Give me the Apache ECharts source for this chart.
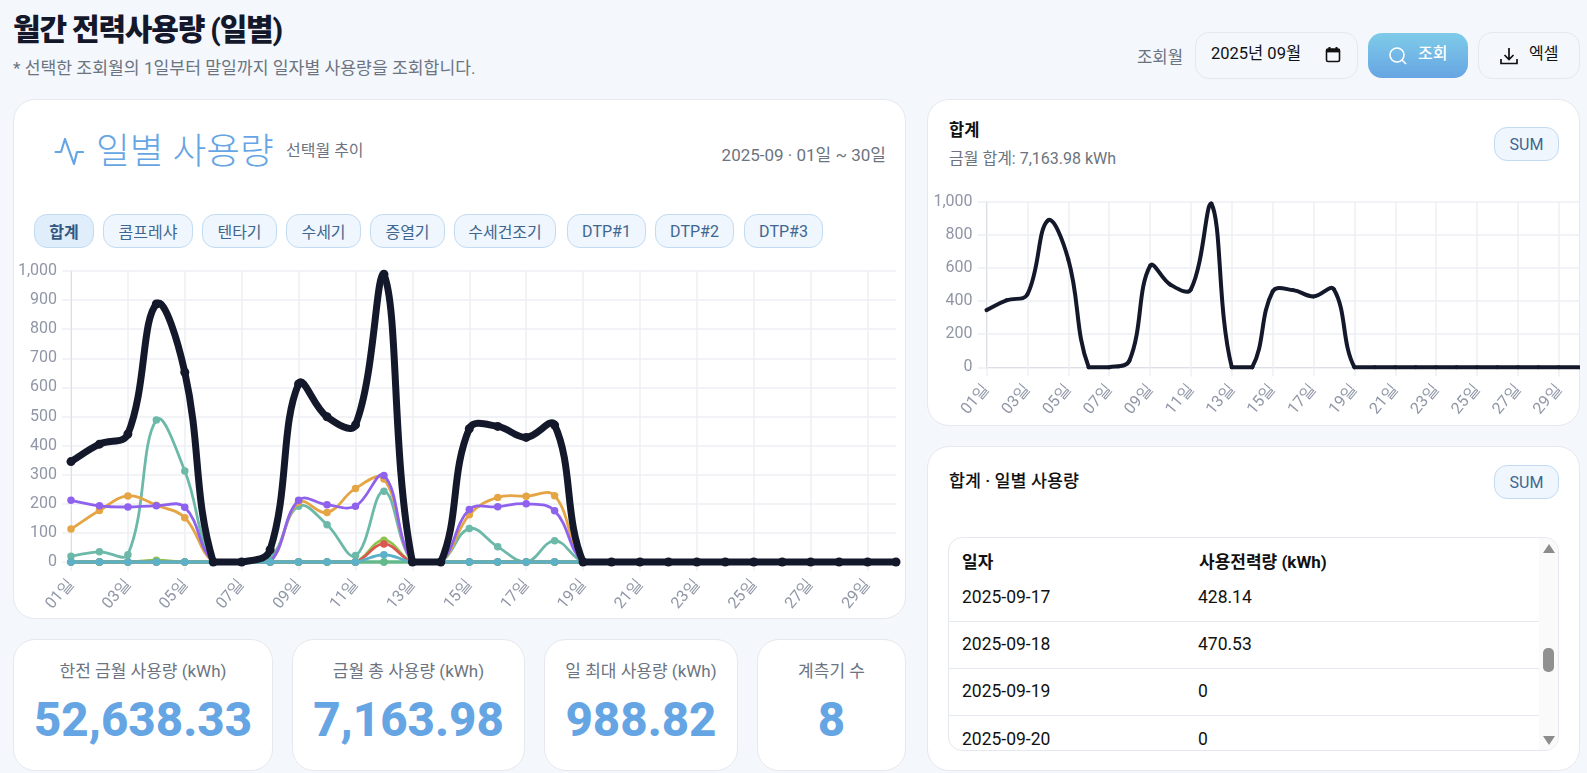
<!DOCTYPE html>
<html lang="ko"><head><meta charset="utf-8">
<script src="https://cdn.jsdelivr.net/npm/echarts@6/dist/echarts.min.js"></script>
<style>
*{box-sizing:border-box}
html,body{margin:0;padding:0;width:1587px;height:773px;overflow:hidden;background:#f4f7fc;font-family:Roboto,"Noto Sans CJK KR",sans-serif;color:#111}
.a{position:absolute;white-space:nowrap}
.card{position:absolute;background:#fff;border:1px solid #e5e8ee;border-radius:22px}
.chip{position:absolute;display:flex;align-items:center;justify-content:center;background:#eff6fd;border:1px solid #c2dbf3;border-radius:13px;font-size:16px;color:#3f6690}
.chip.on{background:#e0edfb;font-weight:700;color:#33587f}
.kpi{text-align:center}
.kpi .l{position:absolute;left:0;right:0;top:20px;font-size:17px;color:#6b7480;line-height:22px}
.kpi .v{position:absolute;left:0;right:0;top:48px;font-size:47.5px;font-weight:800;color:#66a5e3;line-height:64px}
.row{position:absolute;left:0;width:590px;height:1px;background:#e5e8ee}
.cell{position:absolute;font-size:17.5px;line-height:22px;color:#111}
</style></head><body>
<div class="a" style="left:13px;top:10px;font-size:30px;font-weight:800;letter-spacing:-1.2px;color:#14182b;line-height:40px">월간 전력사용량 (일별)</div>
<div class="a" style="left:13px;top:57px;font-size:17.2px;color:#6b7480;line-height:22px">* 선택한 조회월의 1일부터 말일까지 일자별 사용량을 조회합니다.</div>

<div class="a" style="left:1137px;top:46px;font-size:16.7px;color:#6b7480;line-height:24px">조회월</div>
<div class="a" style="left:1195px;top:32px;width:163px;height:47px;border:1px solid #e5e8ee;border-radius:14px;background:#f4f7fc"></div>
<div class="a" style="left:1211px;top:42px;font-size:16.5px;color:#111;line-height:24px">2025년 09월</div>
<svg class="a" style="left:1325px;top:46px" width="16" height="17" viewBox="0 0 16 17"><rect x="1.5" y="3" width="13" height="12.5" rx="1.5" fill="none" stroke="#111" stroke-width="1.6"/><rect x="1.5" y="3" width="13" height="3.4" fill="#111"/><rect x="3.5" y="1" width="2" height="3" fill="#111"/><rect x="10.5" y="1" width="2" height="3" fill="#111"/></svg>
<div class="a" style="left:1368px;top:33px;width:100px;height:45px;border-radius:14px;background:linear-gradient(180deg,#7fcbe9,#66a5e3)"></div>
<svg class="a" style="left:1388px;top:46px" width="20" height="20" viewBox="0 0 20 20"><circle cx="9" cy="9" r="7" fill="none" stroke="#fff" stroke-width="1.6"/><path d="M14 14l4 4" stroke="#fff" stroke-width="1.6"/></svg>
<div class="a" style="left:1418px;top:42px;font-size:16px;font-weight:500;color:#fff;line-height:24px">조회</div>
<div class="a" style="left:1478px;top:32px;width:102px;height:47px;border:1px solid #e5e8ee;border-radius:14px"></div>
<svg class="a" style="left:1499px;top:46px" width="20" height="20" viewBox="0 0 20 20"><path d="M10 2v11M5.5 9l4.5 4.5L14.500 9M2 13v4.500h16V13" fill="none" stroke="#111" stroke-width="1.7"/></svg>
<div class="a" style="left:1529px;top:42px;font-size:16px;color:#111;line-height:24px">엑셀</div>

<div class="card" style="left:13px;top:99px;width:893px;height:520px"></div>
<svg class="a" style="left:54px;top:136px" width="30" height="30" viewBox="0 0 30 30"><path d="M1.500 16H7L11 3l9 25 3-12h6" fill="none" stroke="#66a5e3" stroke-width="2.2" stroke-linejoin="round" stroke-linecap="round"/></svg>
<div class="a" style="left:96px;top:129px;font-size:36.7px;font-weight:300;color:#66a5e3;line-height:46px">일별 사용량</div>
<div class="a" style="left:286px;top:140px;font-size:16px;color:#6b7480;line-height:22px">선택월 추이</div>
<div class="a" style="right:701px;top:144px;font-size:17px;color:#6b7480;line-height:22px">2025-09 · 01일 ~ 30일</div>
<div id="chips"></div>
<div id="mainChart" class="a" style="left:14px;top:260px;width:891px;height:358px"></div>

<div class="card kpi" style="left:13px;top:639px;width:260px;height:132px"><div class="l">한전 금월 사용량 (kWh)</div><div class="v">52,638.33</div></div>
<div class="card kpi" style="left:292px;top:639px;width:233px;height:132px"><div class="l">금월 총 사용량 (kWh)</div><div class="v">7,163.98</div></div>
<div class="card kpi" style="left:544px;top:639px;width:194px;height:132px"><div class="l">일 최대 사용량 (kWh)</div><div class="v">988.82</div></div>
<div class="card kpi" style="left:757px;top:639px;width:149px;height:132px"><div class="l">계측기 수</div><div class="v">8</div></div>

<div class="card" style="left:927px;top:99px;width:653px;height:327px;overflow:hidden"></div>
<div class="a" style="left:949px;top:120px;font-size:16.5px;font-weight:600;line-height:22px">합계</div>
<div class="a" style="left:949px;top:148px;font-size:16px;color:#6b7480;line-height:22px">금월 합계: 7,163.98 kWh</div>
<div class="chip" style="left:1494px;top:127px;width:65px;height:34px">SUM</div>
<div id="sumChart" class="a" style="left:928px;top:190px;width:652px;height:234px"></div>

<div class="card" style="left:927px;top:446px;width:653px;height:325px"></div>
<div class="a" style="left:949px;top:470px;font-size:17.4px;font-weight:500;line-height:22px">합계 · 일별 사용량</div>
<div class="chip" style="left:1494px;top:465px;width:65px;height:34px">SUM</div>
<div class="a" style="left:948px;top:537px;width:611px;height:214px;border:1px solid #e5e8ee;border-radius:14px;overflow:hidden;background:#fff" id="tbl">
  <div class="cell" style="left:13px;top:13px;font-size:17px;font-weight:700">일자</div>
  <div class="cell" style="left:250px;top:13px;font-size:17px;font-weight:700" id="th2">사용전력량 (kWh)</div>
  <div class="a" style="left:590px;top:0;width:20px;height:214px;background:#fafafa"></div>
  <div class="a" style="left:594px;top:6px;width:0;height:0;border-left:6px solid transparent;border-right:6px solid transparent;border-bottom:9px solid #8c8c8c"></div>
  <div class="a" style="left:594px;top:198px;width:0;height:0;border-left:6px solid transparent;border-right:6px solid transparent;border-top:9px solid #8c8c8c"></div>
  <div class="a" style="left:594px;top:110px;width:11px;height:24px;border-radius:5px;background:#909090"></div>
</div>

<script>
const days = ['01일','02일','03일','04일','05일','06일','07일','08일','09일','10일','11일','12일','13일','14일','15일','16일','17일','18일','19일','20일','21일','22일','23일','24일','25일','26일','27일','28일','29일','30일'];
const chipNames = ['합계','콤프레샤','텐타기','수세기','증열기','수세건조기','DTP#1','DTP#2','DTP#3'];
const total    = [345,405,440,886.49,652,0,0,42,612,499,471,988.82,0,0,458,466,428.14,470.53,0,0,0,0,0,0,0,0,0,0,0,0];
const meterA   = [20,35,25,488,313,0,0,12,192,128,22,243,0,0,115,52,0,73,0,0,0,0,0,0,0,0,0,0,0,0];
const meterB   = [113,177,227,195,152,0,0,0,205,170,253,285,0,0,162,222,226,228,0,0,0,0,0,0,0,0,0,0,0,0];
const meterC   = [212,193,189,193,188,0,0,0,212,197,192,297,0,0,180,190,200,176,0,0,0,0,0,0,0,0,0,0,0,0];
const meterD   = [0,0,0,6,0,0,0,0,0,0,0,75,0,0,0,0,0,0,0,0,0,0,0,0,0,0,0,0,0,0];
const meterE   = [0,0,0,0,0,0,0,0,0,0,0,62,0,0,0,0,0,0,0,0,0,0,0,0,0,0,0,0,0,0];
const meterF   = [0,0,0,0,0,0,0,0,0,0,0,0,0,0,0,0,0,0,0,0,0,0,0,0,0,0,0,0,0,0];
const meterG   = [0,0,0,0,0,0,0,0,0,0,0,0,0,0,0,0,0,0,0,0,0,0,0,0,0,0,0,0,0,0];
const meterH   = [0,0,0,0,0,0,0,0,0,0,0,25,0,0,0,0,0,0,0,0,0,0,0,0,0,0,0,0,0,0];
const tableDates = ['2025-09-17','2025-09-18','2025-09-19','2025-09-20'];
const tableValues = ['428.14','470.53','0','0'];

const chipBoxes=[[34,60],[103,90],[202,75],[286,75],[370,75],[454,102],[567,79],[655,79],[744,79]];
document.getElementById('chips').innerHTML=chipNames.map((n,i)=>`<div class="chip${i==0?' on':''}" style="left:${chipBoxes[i][0]}px;top:214px;width:${chipBoxes[i][1]}px;height:34px">${n}</div>`).join('');

const tbl=document.getElementById('tbl');
const rowY=[48,95,142,190];
tableDates.forEach((d,i)=>{
  tbl.insertAdjacentHTML('beforeend',`<div class="cell" style="left:13px;top:${rowY[i]}px">${d}</div><div class="cell" style="left:249px;top:${rowY[i]}px">${tableValues[i]}</div>`);
  if(i<3) tbl.insertAdjacentHTML('beforeend',`<div class="row" style="top:${[83,130,177][i]}px"></div>`);
});

const gridC='#eeeff3', axisC='#dcdfe5', labelC='#8f96a6';
function axes(interval){return {
  xAxis:{type:'category',data:days,boundaryGap:false,
    axisLine:{show:true,onZero:false,lineStyle:{color:axisC,width:1}},
    axisTick:{show:true,interval:1,length:9,lineStyle:{color:gridC,width:1.500}},
    splitLine:{show:true,interval:1,lineStyle:{color:gridC,width:1.500}},
    axisLabel:{interval:1,rotate:50,fontSize:16,color:labelC,margin:19,fontFamily:'Roboto'}},
  yAxis:{type:'value',min:0,max:1000,interval:interval,
    axisLine:{show:true,lineStyle:{color:axisC,width:1}},
    axisTick:{show:true,length:9,lineStyle:{color:gridC,width:1.500}},
    splitLine:{show:true,lineStyle:{color:gridC,width:1.500}},
    axisLabel:{fontSize:16,color:labelC,margin:14,fontFamily:'Roboto',padding:[3,0,0,0],
      formatter:v=>v.toLocaleString('en-US')}}
};}

/* Curve through the values, using the axis scale for every coordinate. */
function curve(name,data,color,w,z){
  const t=0.4;
  return {name:name,type:'custom',coordinateSystem:'cartesian2d',z:z,silent:true,animation:false,clip:false,
    data:data.map((v,i)=>[i,v]),encode:{x:0,y:1},
    renderItem(params,api){
      const i=params.dataIndex;
      if(i>=data.length-1) return null;
      const P=k=>api.coord([k,data[Math.max(0,Math.min(data.length-1,k))]]);
      const bottom=api.coord([0,0])[1], top=api.coord([0,1000])[1];
      const ctrl=k=>{
        const c=P(Math.min(k,data.length-1)), p=k>0?P(k-1):c, n=k<data.length-1?P(k+1):c;
        const d1=Math.hypot(c[0]-p[0],c[1]-p[1]), d2=Math.hypot(n[0]-c[0],n[1]-c[1]);
        const s=d1+d2||1, fa=t*d1/s, fb=t*d2/s;
        const cl=y=>Math.max(top,Math.min(bottom,y));
        return {in:[c[0]-fa*(n[0]-p[0]),cl(c[1]-fa*(n[1]-p[1]))],out:[c[0]+fb*(n[0]-p[0]),cl(c[1]+fb*(n[1]-p[1]))]};
      };
      const a=P(i),b=P(i+1),ca=ctrl(i),cb=ctrl(i+1);
      return {type:'bezierCurve',silent:true,
        shape:{x1:a[0],y1:a[1],cpx1:ca.out[0],cpy1:ca.out[1],cpx2:cb.in[0],cpy2:cb.in[1],x2:b[0],y2:b[1]},
        style:{stroke:color,lineWidth:w,fill:null,lineCap:'round'}};
    }};
}
function dots(name,data,color,size,z){return {name:name,type:'line',data:data,z:z,clip:false,animation:false,silent:true,
  lineStyle:{width:0,opacity:0},itemStyle:{color:color},showSymbol:true,symbol:'circle',symbolSize:size};}

const mainDefs=[['수세기',meterA,'#6cb9a9'],['DTP#3',meterG,'#63b98a'],['증열기',meterD,'#8fc34e'],['수세건조기',meterE,'#d9594f'],['텐타기',meterB,'#e5a544'],['콤프레샤',meterC,'#8f62ee'],['DTP#1',meterF,'#63b98a'],['DTP#2',meterH,'#5cb1c8']];
const mainSeries=[];
mainDefs.forEach((d,i)=>{mainSeries.push(curve(d[0],d[1],d[2],2.8,10+i*2));mainSeries.push(dots(d[0],d[1],d[2],7.5,11+i*2));});
mainSeries.push(curve('합계',total,'#14182b',7,40));
mainSeries.push(dots('합계',total,'#14182b',9,41));

const main=echarts.init(document.getElementById('mainChart'),null,{renderer:'canvas'});
main.setOption(Object.assign({animation:false,
  grid:{left:57,top:11,width:825,height:291},
  series:mainSeries},axes(100)));

const sum=echarts.init(document.getElementById('sumChart'),null,{renderer:'canvas'});
sum.setOption(Object.assign({animation:false,
  grid:{left:58.500,top:11.700,width:592.800,height:165.600},
  series:[curve('합계',total,'#14182b',4,10)]},axes(200)));
</script>
</body></html>
